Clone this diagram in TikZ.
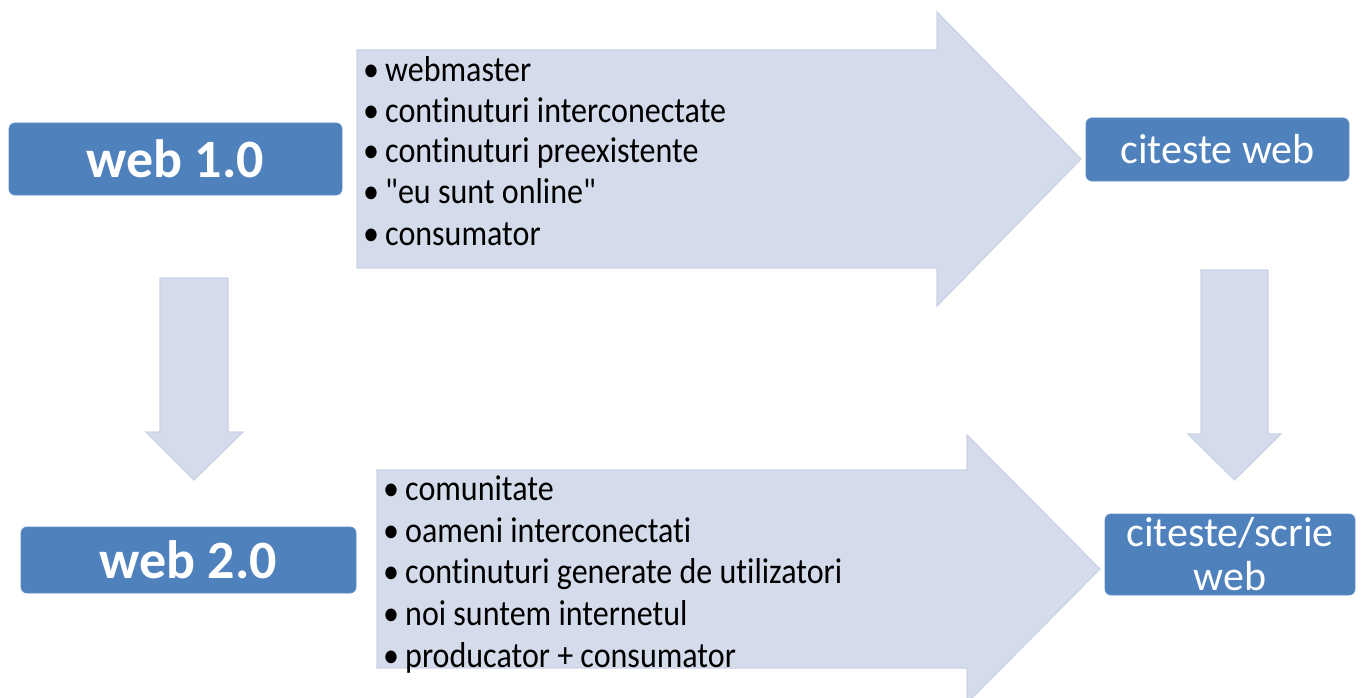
\documentclass[tikz,border=0pt]{standalone}
\usepackage{fontspec}
\setmainfont{Carlito}[Ligatures={NoCommon}]
\newfontfamily\bodyfont[FakeStretch=0.89,Ligatures={NoCommon}]{Carlito}
\definecolor{arrowfill}{RGB}{212,219,234}
\definecolor{arrowline}{RGB}{203,211,229}
\definecolor{boxblue}{RGB}{79,129,189}
\definecolor{boxline}{RGB}{96,143,198}
\begin{document}
\begin{tikzpicture}[x=1pt,y=-1pt,
  blockarrow/.style={fill=arrowfill, draw=arrowline, line width=1.2pt, line join=miter},
  bluebox/.style={fill=boxblue, draw=boxline, line width=0.8pt, rounded corners=6pt, inner sep=0pt, text=white},
  item/.style={anchor=base west, inner sep=0pt, font=\bodyfont\fontsize{36}{40}\selectfont}]
\useasboundingbox (0,0) rectangle (1363,698);
\clip (0,0) rectangle (1363,698);
% block arrows
\draw[blockarrow] (357,50) -- (937,50) -- (937,12) -- (1081,159) -- (937,306) -- (937,268) -- (357,268) -- cycle;
\draw[blockarrow] (377,470) -- (967,470) -- (967,435) -- (1100,569) -- (967,703) -- (967,668) -- (377,668) -- cycle;
\draw[blockarrow] (160,278) -- (228,278) -- (228,432) -- (243,432) -- (194,480) -- (146,432) -- (160,432) -- cycle;
\draw[blockarrow] (1201,270) -- (1268,270) -- (1268,434) -- (1281,434) -- (1234.5,480) -- (1188,434) -- (1201,434) -- cycle;
% boxes
\node[bluebox, minimum width=333pt, minimum height=72pt, font=\bfseries\fontsize{54}{54}\selectfont] (w1) at (175.5,159) {web 1.0};
\node[bluebox, minimum width=335pt, minimum height=66pt, font=\bfseries\fontsize{54}{54}\selectfont] (w2) at (188.5,560) {web 2.0};
\node[bluebox, minimum width=263pt, minimum height=63pt, font=\fontsize{42}{44}\selectfont] (c1) at (1217.5,149.5) {citeste web};
\node[bluebox, minimum width=250pt, minimum height=81pt, align=center, font=\fontsize{42}{44}\selectfont] (c2) at (1230,554.5) {citeste/scrie\\web};
% bullet lists
\node[item] (t1) at (363,82) {\makebox[22pt][l]{•}webmaster};
\node[item] (t2) at (363,123) {\makebox[22pt][l]{•}continuturi interconectate};
\node[item] (t3) at (363,163) {\makebox[22pt][l]{•}continuturi preexistente};
\node[item] (t4) at (363,204) {\makebox[22pt][l]{•}"eu sunt online"};
\node[item] (t5) at (363,245) {\makebox[22pt][l]{•}consumator};
\node[item] (b1) at (383,500) {\makebox[22pt][l]{•}comunitate};
\node[item] (b2) at (383,542) {\makebox[22pt][l]{•}oameni interconectati};
\node[item] (b3) at (383,583) {\makebox[22pt][l]{•}continuturi generate de utilizatori};
\node[item] (b4) at (383,625) {\makebox[22pt][l]{•}noi suntem internetul};
\node[item] (b5) at (383,667) {\makebox[22pt][l]{•}producator + consumator};
\end{tikzpicture}
\end{document}
